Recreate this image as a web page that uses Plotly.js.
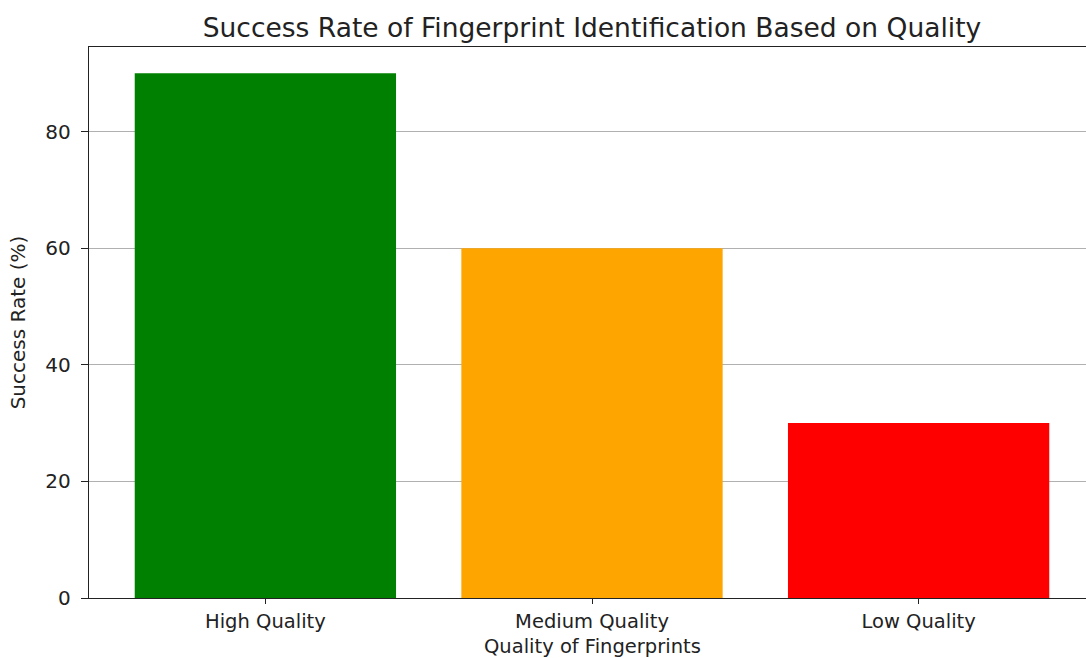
<!DOCTYPE html>
<html><head><meta charset="utf-8">
<script src="https://cdn.plot.ly/plotly-3.0.1.min.js"></script>
<style>html,body{margin:0;padding:0;overflow:hidden;background:#fff;width:1086px;height:658px}#c{width:1096px;height:658px}</style>
</head><body><div id="c"></div>
<script>
const categories = ["High Quality", "Medium Quality", "Low Quality"];
const successRates = [90, 60, 30];
const barColors = ["green", "orange", "red"];
const yTicks = [0, 20, 40, 60, 80];
const xTitle = "Quality of Fingerprints";

const font = "DejaVu Sans, sans-serif";
Plotly.newPlot("c", [{
  type: "bar",
  x: [0, 1, 2],
  y: successRates,
  width: 0.8,
  marker: {color: barColors, line: {width: 0}},
  hoverinfo: "none"
}], {
  width: 1096, height: 658,
  margin: {l: 89, r: 1, t: 47, b: 60},
  paper_bgcolor: "#fff", plot_bgcolor: "#fff",
  font: {family: font, color: "#222", size: 20},
  title: {text: "Success Rate of Fingerprint Identification Based on Quality",
    font: {family: font, size: 26.5, color: "#222"},
    xref: "paper", x: 0.5, xanchor: "center", yref: "container", y: 1 - 28/658, yanchor: "middle"},
  xaxis: {
    range: [-0.54, 2.54], tickvals: [0, 1, 2], ticktext: categories,
    showline: true, linecolor: "#222", linewidth: 1.3, mirror: true,
    ticks: "outside", ticklen: 5, tickcolor: "#222", showgrid: false, zeroline: false,
    tickfont: {family: font, size: 19.5, color: "#222"},
    automargin: false
  },
  yaxis: {
    range: [0, 94.5], tickvals: yTicks,
    showline: true, linecolor: "#222", linewidth: 1.3, mirror: true,
    ticks: "outside", ticklen: 7, tickcolor: "#222", ticklabelstandoff: 6,
    showgrid: true, gridcolor: "#b0b0b0", gridwidth: 1, zeroline: false,
    tickfont: {family: font, size: 20, color: "#222"},
    automargin: false,
    title: {text: "Success Rate (%)", font: {family: font, size: 20, color: "#222"}, standoff: 14}
  },
  annotations: [{
    text: xTitle, xref: "paper", yref: "paper", x: 0.5, y: -48/551,
    xanchor: "center", yanchor: "middle", showarrow: false,
    font: {family: font, size: 19.5, color: "#222"}
  }],
  showlegend: false
}, {displayModeBar: false, staticPlot: true});
</script></body></html>
